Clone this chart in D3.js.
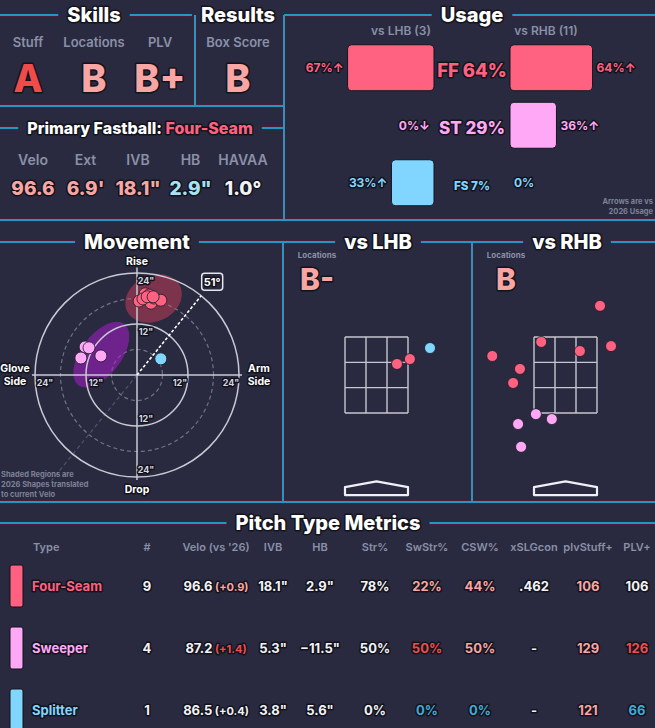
<!DOCTYPE html>
<html>
<head>
<meta charset="utf-8">
<script src="https://cdn.jsdelivr.net/npm/d3@7"></script>
<style>
  body { margin: 0; background: #292a3f; }
  svg { display: block; font-family: Inter, "Open Sans", sans-serif; }
  .o { paint-order: stroke; stroke: #13131d; stroke-width: 3px; stroke-linejoin: round; }
</style>
</head>
<body>
<div id="chart"></div>
<script>
// ---- data ----
const pitchTypes = ['FF', 'ST', 'FS'];
const pitchNames = ['Four-Seam', 'Sweeper', 'Splitter'];
const pitchColors = ['#ff6180', '#ffa8f6', '#80d6ff'];

const skillLabels = ['Stuff', 'Locations', 'PLV'];
const skillGrades = ['A', 'B', 'B+'];
const resultLabels = ['Box Score'];
const resultGrades = ['B'];

const fbLabels = ['Velo', 'Ext', 'IVB', 'HB', 'HAVAA'];
const fbValues = ['96.6', "6.9'", '18.1"', '2.9"', '1.0°'];
const fbTiers = [1, 1, 1, -1, 0];

const usageAll = [64, 29, 7];
const usageLHB = [67, 0, 33];
const usageRHB = [64, 36, 0];
const arrowLHB = ['↑', '↓', '↑'];
const arrowRHB = ['↑', '↑', ''];
const batterCounts = [3, 11];

// movement, inches [HB, IVB]
const moveFF = [[0.5, 17.4], [1.9, 19.1], [2.8, 18.8], [3.3, 16.9], [4.0, 18.1], [5.6, 17.6], [1.4, 17.9], [2.4, 18.4], [3.8, 18.4]];
const moveST = [[-12.2, 6.6], [-11.3, 6.4], [-13.2, 4.0], [-8.5, 4.5]];
const moveFS = [[5.6, 3.8]];
const armAngle = 51;
// 2026 shape regions: [HB, IVB, radius along, radius across, tilt deg]
const regionFF = [3.9, 18.0, 6.9, 5.4, -25];
const regionST = [-8.4, 4.8, 9.0, 4.7, -53];

// locations, feet [plate_x, plate_z]
const locGrades = ['B-', 'B'];
const lhbFF = [[0.54, 2.79], [0.88, 2.92]];
const lhbFS = [[1.41, 3.21]];
const rhbFF = [[0.91, 4.32], [-0.64, 3.37], [0.38, 3.13], [1.20, 3.26], [-1.93, 3.0], [-1.20, 2.66], [-1.38, 2.29]];
const rhbST = [[-1.25, 1.21], [-0.78, 1.47], [-0.36, 1.34], [-1.17, 0.61]];

// table
const tableHeaders = ['#', "Velo (vs '26)", 'IVB', 'HB', 'Str%', 'SwStr%', 'CSW%', 'xSLGcon', 'plvStuff+', 'PLV+'];
const counts = [9, 4, 1];
const velo = [96.6, 87.2, 86.5];
const veloDiff = [0.9, 1.4, 0.4];
const veloDiffTier = [1, 2, 0];
const ivb = [18.1, 5.3, 3.8];
const hb = [2.9, -11.5, 5.6];
const strPct = [78, 50, 0];
const swStrPct = [22, 50, 0];
const swStrTier = [1, 2, -2];
const cswPct = [44, 50, 0];
const cswTier = [1, 1, -2];
const xslgcon = ['.462', '-', '-'];
const plvStuff = [106, 129, 121];
const plvStuffTier = [1, 1, 1];
const plvPlus = [106, 126, 66];
const plvPlusTier = [0, 2, -2];

// ---- setup ----
const W = 655, H = 728;
const bg = '#292a3f';
const gray = '#8a90a8';
const tierColor = t => ({ 2: '#f04b4b', 1: '#f7a6a3', 0: '#f2f2f6', '-1': '#a6e2f2', '-2': '#3faad4' })[t];
const gradeTier = g => g.startsWith('A') ? 2 : 1;

const svg = d3.select('#chart').append('svg')
    .attr('width', W)
    .attr('height', H);
svg.append('rect').attr('width', W).attr('height', H).attr('fill', bg);

const lineLayer = svg.append('g');
const segs = [];

// header line with gaps around centered titles
function header(x1, x2, y, titles, size) {
    const edges = [x1];
    titles.forEach(t => {
        const txt = svg.append('text')
            .attr('class', 'o')
            .attr('x', t.cx)
            .attr('y', y)
            .attr('dy', '0.36em')
            .attr('text-anchor', 'middle')
            .attr('font-size', size)
            .attr('font-weight', 800)
            .attr('fill', '#fff');
        t.parts.forEach(p => txt.append('tspan').attr('fill', p[1]).text(p[0]));
        const w = txt.node().getComputedTextLength();
        edges.push(t.cx - w / 2 - 9, t.cx + w / 2 + 9);
    });
    edges.push(x2);
    for (let i = 0; i < edges.length; i += 2) segs.push([edges[i], y, edges[i + 1], y]);
}

header(0, W, 15, [
    { cx: 94, parts: [['Skills', '#fff']] },
    { cx: 238, parts: [['Results', '#fff']] },
    { cx: 472, parts: [['Usage', '#fff']] }
], 20);
header(0, 284, 128, [
    { cx: 140, parts: [['Primary Fastball: ', '#fff'], [pitchNames[0], pitchColors[0]]] }
], 16);
header(0, W, 242, [
    { cx: 137, parts: [['Movement', '#fff']] },
    { cx: 378, parts: [['vs LHB', '#fff']] },
    { cx: 567, parts: [['vs RHB', '#fff']] }
], 20);
header(0, W, 523, [
    { cx: 328, parts: [['Pitch Type Metrics', '#fff']] }
], 20);

segs.push([195, 15, 195, 106], [284, 15, 284, 220], [0, 106, 284, 106],
    [0, 220, W, 220], [283, 242, 283, 502], [472, 242, 472, 502], [0, 502, W, 502]);

[['#4a1d38', 3.8], ['#2297c2', 2]].forEach(([c, w]) => {
    lineLayer.selectAll(null).data(segs).join('line')
        .attr('x1', d => d[0]).attr('y1', d => d[1])
        .attr('x2', d => d[2]).attr('y2', d => d[3])
        .attr('stroke', c).attr('stroke-width', w);
});

// ---- skills & results ----
const skillX = d3.scalePoint().domain(skillLabels).range([28, 160]);
function gradeBlock(labels, grades, xs) {
    const g = svg.append('g');
    g.selectAll('.lab').data(labels).join('text')
        .attr('x', d => xs(d)).attr('y', 47)
        .attr('text-anchor', 'middle').attr('font-size', 13).attr('font-weight', 600)
        .attr('fill', gray).text(d => d);
    g.selectAll('.gr').data(grades).join('text')
        .attr('class', 'o')
        .attr('x', (d, i) => xs(labels[i])).attr('y', 92)
        .attr('text-anchor', 'middle').attr('font-size', 38).attr('font-weight', 800)
        .attr('fill', d => tierColor(gradeTier(d))).text(d => d);
}
gradeBlock(skillLabels, skillGrades, skillX);
gradeBlock(resultLabels, resultGrades, d3.scalePoint().domain(resultLabels).range([238, 238]));

// ---- primary fastball ----
const fbX = d3.scalePoint().domain(fbLabels).range([33, 243]);
svg.append('g').selectAll('text').data(fbLabels).join('text')
    .attr('x', d => fbX(d)).attr('y', 165)
    .attr('text-anchor', 'middle').attr('font-size', 14).attr('font-weight', 600)
    .attr('fill', gray).text(d => d);
svg.append('g').selectAll('text').data(fbValues).join('text')
    .attr('class', 'o')
    .attr('x', (d, i) => fbX(fbLabels[i])).attr('y', 195)
    .attr('text-anchor', 'middle').attr('font-size', 19).attr('font-weight', 800)
    .attr('fill', (d, i) => tierColor(fbTiers[i])).text(d => d);

// ---- usage ----
const usageMid = 472;
const barW = d3.scaleLinear().domain([0, 100]).range([0, 129]);
const rowY = d3.scaleBand().domain(pitchTypes).range([39, 211.5]).paddingInner(0.2).paddingOuter(0.1);
const labelSize = d3.scaleLinear().domain([0, 35]).range([10, 18.5]).clamp(true);
const ug = svg.append('g');

['vs LHB (' + batterCounts[0] + ')', 'vs RHB (' + batterCounts[1] + ')'].forEach((t, i) => {
    ug.append('text').attr('x', i ? 546 : 401).attr('y', 35)
        .attr('text-anchor', 'middle').attr('font-size', 12).attr('font-weight', 600)
        .attr('fill', gray).text(t);
});

pitchTypes.forEach((p, i) => {
    const y = rowY(p), h = rowY.bandwidth(), cy = y + h / 2;
    const lw = barW(usageLHB[i]), rw = barW(usageRHB[i]);
    const lx = usageMid - 38, rx = usageMid + 38;
    if (lw > 0) ug.append('rect').attr('x', lx - lw).attr('y', y).attr('width', lw).attr('height', h)
        .attr('rx', 4).attr('fill', pitchColors[i]).attr('stroke', '#15151f').attr('stroke-width', 1);
    if (rw > 0) ug.append('rect').attr('x', rx).attr('y', y).attr('width', rw).attr('height', h)
        .attr('rx', 4).attr('fill', pitchColors[i]).attr('stroke', '#15151f').attr('stroke-width', 1);
    ug.append('text').attr('class', 'o')
        .attr('x', lx - lw - 4).attr('y', cy).attr('dy', '0.36em')
        .attr('text-anchor', 'end').attr('font-size', 12).attr('font-weight', 700)
        .attr('fill', pitchColors[i]).text(usageLHB[i] + '%' + arrowLHB[i]);
    ug.append('text').attr('class', 'o')
        .attr('x', rx + rw + 4).attr('y', cy).attr('dy', '0.36em')
        .attr('text-anchor', 'start').attr('font-size', 12).attr('font-weight', 700)
        .attr('fill', pitchColors[i]).text(usageRHB[i] + '%' + arrowRHB[i]);
    ug.append('text').attr('class', 'o')
        .attr('x', usageMid).attr('y', cy + 3).attr('dy', '0.36em')
        .attr('text-anchor', 'middle').attr('font-size', labelSize(usageAll[i])).attr('font-weight', 800)
        .attr('fill', pitchColors[i]).text(p + ' ' + usageAll[i] + '%');
});
['Arrows are vs', '2026 Usage'].forEach((t, i) => {
    ug.append('text').attr('x', 653).attr('y', 204 + i * 10)
        .attr('text-anchor', 'end').attr('font-size', 7.5).attr('font-weight', 700)
        .attr('fill', '#7d8196').text(t);
});

// ---- movement ----
const cx0 = 137, cy0 = 375, R = 102;
const mx = d3.scaleLinear().domain([-24, 24]).range([cx0 - R, cx0 + R]);
const my = d3.scaleLinear().domain([-24, 24]).range([cy0 + R, cy0 - R]);
const rr = d3.scaleLinear().domain([0, 24]).range([0, R]);
const mg = svg.append('g');

[6, 18].forEach(r => mg.append('circle').attr('cx', mx(0)).attr('cy', my(0)).attr('r', rr(r))
    .attr('fill', 'none').attr('stroke', '#6f7388').attr('stroke-width', 1.2).attr('stroke-dasharray', '4,3'));

// shaded regions
[[regionFF, '#e2405f', 0.45], [regionST, '#a81ecc', 0.55]].forEach(([r, c, op]) => {
    mg.append('ellipse')
        .attr('transform', `translate(${mx(r[0])},${my(r[1])}) rotate(${r[4]})`)
        .attr('rx', rr(r[2])).attr('ry', rr(r[3]))
        .attr('fill', c).attr('opacity', op);
});

[12, 24].forEach(r => mg.append('circle').attr('cx', mx(0)).attr('cy', my(0)).attr('r', rr(r))
    .attr('fill', 'none').attr('stroke', '#c9cad4').attr('stroke-width', 1.5));
mg.append('line').attr('x1', mx(-24.7)).attr('x2', mx(24.7)).attr('y1', my(0)).attr('y2', my(0))
    .attr('stroke', '#c9cad4').attr('stroke-width', 1.5);
mg.append('line').attr('x1', mx(0)).attr('x2', mx(0)).attr('y1', my(25.3)).attr('y2', my(-24.7))
    .attr('stroke', '#c9cad4').attr('stroke-width', 1.5);

// arm angle line
const a = armAngle * Math.PI / 180;
mg.append('line')
    .attr('x1', mx(0)).attr('y1', my(0))
    .attr('x2', mx(-32 * Math.cos(a))).attr('y2', my(-32 * Math.sin(a)))
    .attr('stroke', '#9a9db0').attr('stroke-opacity', 0.35).attr('stroke-width', 1.2).attr('stroke-dasharray', '4,3');
mg.append('line')
    .attr('x1', mx(0)).attr('y1', my(0))
    .attr('x2', mx(24 * Math.cos(a))).attr('y2', my(24 * Math.sin(a)))
    .attr('stroke', '#fff').attr('stroke-width', 1.6).attr('stroke-dasharray', '3,2');
const bx = mx(24 * Math.cos(a)) + 11, by = my(24 * Math.sin(a)) - 14;
mg.append('rect').attr('x', bx - 10.5).attr('y', by - 8.5).attr('width', 21).attr('height', 17)
    .attr('rx', 3).attr('fill', bg).attr('stroke', '#e6e6ee').attr('stroke-width', 1.5);
mg.append('text').attr('class', 'o').attr('x', bx).attr('y', by).attr('dy', '0.36em')
    .attr('text-anchor', 'middle').attr('font-size', 11).attr('font-weight', 700)
    .attr('fill', '#fff').text(armAngle + '°');

// tick labels
const tickStyle = s => s.attr('class', 'o').attr('font-size', 9).attr('font-weight', 700).attr('fill', '#d6d7e0');
[-24, -12, 12, 24].forEach(v => {
    mg.append('text').call(tickStyle).attr('x', mx(v) + (v < 0 ? 10 : -8)).attr('y', my(0) + 11)
        .attr('text-anchor', 'middle').text(Math.abs(v) + '"');
    mg.append('text').call(tickStyle).attr('x', mx(0) + 9).attr('y', my(v) + (v > 0 ? 11 : -4))
        .attr('text-anchor', 'middle').text(Math.abs(v) + '"');
});
const dirStyle = s => s.attr('class', 'o').attr('font-size', 10.5).attr('font-weight', 700)
    .attr('fill', '#fff').attr('text-anchor', 'middle');
mg.append('text').call(dirStyle).attr('x', mx(0)).attr('y', 265).text('Rise');
mg.append('text').call(dirStyle).attr('x', mx(0)).attr('y', 493).text('Drop');
['Glove', 'Side'].forEach((t, i) => mg.append('text').call(dirStyle).attr('x', 15).attr('y', 372 + i * 13).text(t));
['Arm', 'Side'].forEach((t, i) => mg.append('text').call(dirStyle).attr('x', 259).attr('y', 372 + i * 13).text(t));

[[moveST, 1], [moveFF, 0], [moveFS, 2]].forEach(([pts, i]) => {
    mg.append('g').selectAll('circle').data(pts).join('circle')
        .attr('cx', d => mx(d[0])).attr('cy', d => my(d[1])).attr('r', 6)
        .attr('fill', pitchColors[i]).attr('stroke', '#1a1a28').attr('stroke-width', 0.8);
});
['Shaded Regions are', '2026 Shapes translated', 'to current Velo'].forEach((t, i) => {
    mg.append('text').attr('x', 1).attr('y', 477 + i * 10)
        .attr('font-size', 7.5).attr('font-weight', 700).attr('fill', '#7d8196').text(t);
});

// ---- locations ----
function locPanel(zoneLeft, labelX, grade, sets) {
    const g = svg.append('g');
    const x = d3.scaleLinear().domain([-0.83, 0.83]).range([zoneLeft, zoneLeft + 63]);
    const y = d3.scaleLinear().domain([1.5, 3.5]).range([413, 337]);
    g.append('text').attr('x', labelX).attr('y', 258).attr('text-anchor', 'middle')
        .attr('font-size', 8).attr('font-weight', 700).attr('fill', gray).text('Locations');
    g.append('text').attr('class', 'o').attr('x', labelX).attr('y', 290).attr('text-anchor', 'middle')
        .attr('font-size', 30).attr('font-weight', 800).attr('fill', tierColor(1)).text(grade);

    const xs = d3.range(4).map(k => -0.83 + k * 1.66 / 3);
    const zs = d3.range(4).map(k => 1.5 + k * 2 / 3);
    xs.forEach(v => g.append('line').attr('x1', x(v)).attr('x2', x(v)).attr('y1', y(1.5)).attr('y2', y(3.5))
        .attr('stroke', '#c6c7d1').attr('stroke-width', 1.4));
    zs.forEach(v => g.append('line').attr('y1', y(v)).attr('y2', y(v)).attr('x1', x(-0.83)).attr('x2', x(0.83))
        .attr('stroke', '#c6c7d1').attr('stroke-width', 1.4));

    const plate = [[-0.83, -0.66], [-0.83, -0.45], [0, -0.3], [0.83, -0.45], [0.83, -0.66]];
    g.append('path').attr('d', d3.line().x(d => x(d[0])).y(d => y(d[1]))(plate) + 'Z')
        .attr('fill', bg).attr('stroke', '#f0f0f4').attr('stroke-width', 2.2).attr('stroke-linejoin', 'round');

    sets.forEach(([pts, i]) => {
        g.append('g').selectAll('circle').data(pts).join('circle')
            .attr('cx', d => x(d[0])).attr('cy', d => y(d[1])).attr('r', 5.5)
            .attr('fill', pitchColors[i]).attr('stroke', '#1a1a28').attr('stroke-width', 0.8);
    });
}
locPanel(345, 317, locGrades[0], [[lhbFF, 0], [lhbFS, 2]]);
locPanel(534, 506, locGrades[1], [[rhbFF, 0], [rhbST, 1]]);

// ---- table ----
const colX = [147, 216, 273, 320, 375, 427, 480, 534, 588, 637];
const tRow = d3.scalePoint().domain(pitchTypes).range([586, 710]);
const tg = svg.append('g');
tg.append('text').attr('x', 33).attr('y', 551).attr('font-size', 11).attr('font-weight', 600)
    .attr('fill', gray).text('Type');
tg.selectAll('.th').data(tableHeaders).join('text')
    .attr('x', (d, i) => colX[i]).attr('y', 551).attr('text-anchor', 'middle')
    .attr('font-size', 11).attr('font-weight', 600).attr('fill', gray).text(d => d);

const fmtIn = v => (v < 0 ? '−' : '') + Math.abs(v).toFixed(1) + '"';
pitchTypes.forEach((p, i) => {
    const y = tRow(p);
    tg.append('rect').attr('x', 10).attr('y', y - 21).attr('width', 13).attr('height', 42)
        .attr('rx', 2).attr('fill', pitchColors[i]).attr('stroke', '#13131d').attr('stroke-width', 1);
    tg.append('text').attr('class', 'o').attr('x', 32).attr('y', y).attr('dy', '0.36em')
        .attr('font-size', 13).attr('font-weight', 700).attr('fill', pitchColors[i]).text(pitchNames[i]);

    const cells = [
        [counts[i], 0], [null, 0], [fmtIn(ivb[i]), 0], [fmtIn(hb[i]), 0], [strPct[i] + '%', 0],
        [swStrPct[i] + '%', swStrTier[i]], [cswPct[i] + '%', cswTier[i]], [xslgcon[i], 0],
        [plvStuff[i], plvStuffTier[i]], [plvPlus[i], plvPlusTier[i]]
    ];
    cells.forEach(([v, t], k) => {
        const txt = tg.append('text').attr('class', 'o').attr('x', colX[k]).attr('y', y).attr('dy', '0.36em')
            .attr('text-anchor', 'middle').attr('font-size', 13).attr('font-weight', 700)
            .attr('fill', tierColor(t));
        if (k === 1) {
            txt.append('tspan').text(velo[i].toFixed(1));
            txt.append('tspan').attr('font-size', 11).attr('fill', tierColor(veloDiffTier[i]))
                .text(' (' + (veloDiff[i] >= 0 ? '+' : '') + veloDiff[i].toFixed(1) + ')');
        } else {
            txt.text(v);
        }
    });
});
</script>
</body>
</html>
